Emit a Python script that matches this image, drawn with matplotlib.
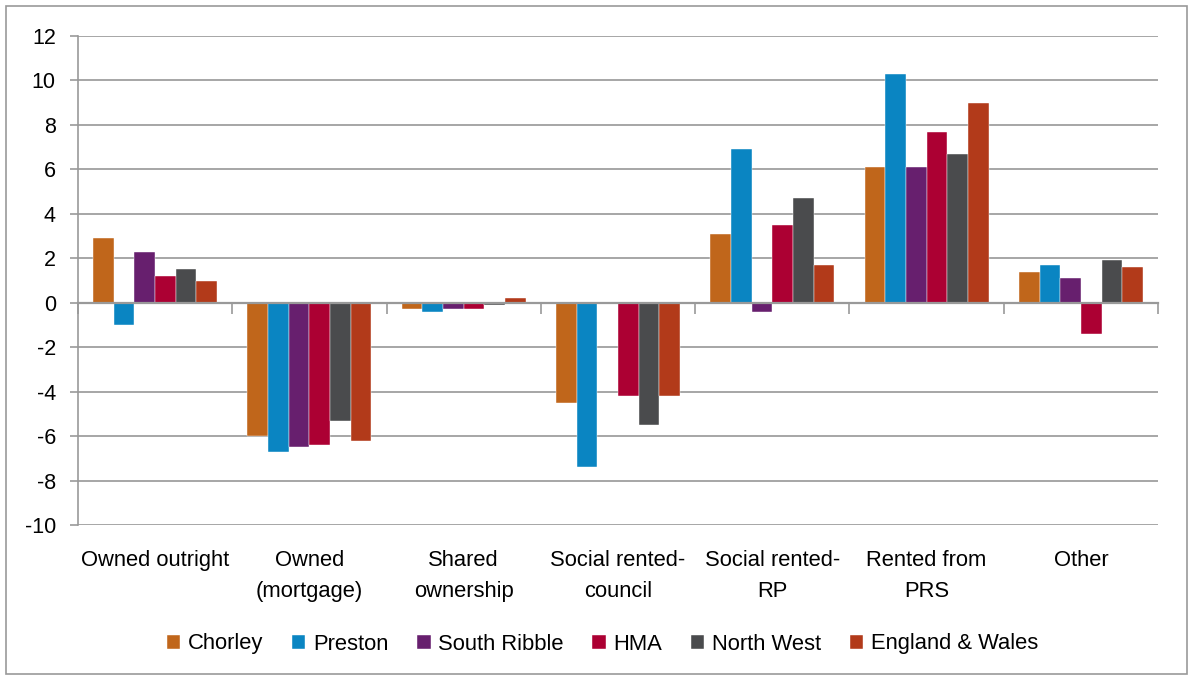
import matplotlib
matplotlib.use("Agg")
import matplotlib.pyplot as plt
import numpy as np
from matplotlib.patches import Rectangle
import matplotlib.transforms as mtransforms

categories = ["Owned outright", "Owned\n(mortgage)", "Shared\nownership",
              "Social rented-\ncouncil", "Social rented-\nRP", "Rented from\nPRS", "Other"]
series_names = ["Chorley", "Preston", "South Ribble", "HMA", "North West", "England & Wales"]
chorley      = [2.9, -6.0, -0.3, -4.5, 3.1, 6.1, 1.4]
preston      = [-1.0, -6.7, -0.4, -7.4, 6.9, 10.3, 1.7]
south_ribble = [2.3, -6.5, -0.3, 0.0, -0.4, 6.1, 1.1]
hma          = [1.2, -6.4, -0.3, -4.2, 3.5, 7.7, -1.4]
north_west   = [1.5, -5.3, -0.1, -5.5, 4.7, 6.7, 1.9]
eng_wales    = [1.0, -6.2, 0.2, -4.2, 1.7, 9.0, 1.6]
colors = ["#C0661B", "#0A85C2", "#671F6E", "#AC0033", "#4A4B4D", "#B23A1A"]
yticks = list(range(-10, 13, 2))

plt.rcParams['font.family'] = ['Liberation Sans', 'DejaVu Sans']
fig = plt.figure(figsize=(11.93, 6.8), dpi=100)
ax = fig.add_axes([78/1193, 1-525/680, (1158-78)/1193, (525-36)/680])

data = [chorley, preston, south_ribble, hma, north_west, eng_wales]
x = np.arange(len(categories))
bw = 0.134
for i, (name, vals) in enumerate(zip(series_names, data)):
    ax.bar(x + (i - 2.5) * bw, vals, width=bw, color=colors[i], label=name, zorder=3,
           edgecolor="white", linewidth=0.3)

ax.set_xlim(-0.5, len(categories) - 0.5)
ax.set_ylim(-10, 12)
ax.set_yticks(yticks)
ax.set_yticklabels([str(v) for v in yticks], fontsize=15.5)
ax.yaxis.grid(True, color="#A6A6A6", linewidth=1.4, zorder=0)
ax.set_axisbelow(True)
for s in ["top", "right"]:
    ax.spines[s].set_visible(False)
ax.spines["left"].set_color("#999999")
ax.spines["left"].set_linewidth(1.2)
ax.spines["bottom"].set_position(("data", 0))
ax.spines["bottom"].set_color("#999999")
ax.spines["bottom"].set_linewidth(1.6)
ax.spines["bottom"].set_zorder(4)
ax.tick_params(axis="y", direction="out", length=6, color="#999999", width=1.2, pad=10)
ax.set_xticks(np.arange(-0.5, len(categories)), minor=False)
ax.set_xticklabels([])
ax.tick_params(axis="x", direction="out", length=8, color="#999999", width=1.2)

trans = mtransforms.blended_transform_factory(ax.transData, ax.transAxes)
for xi, lab in zip(x, categories):
    ax.text(xi, -0.052, lab, transform=trans, ha="center", va="top", fontsize=15.8,
            linespacing=1.58)

fig.legend(loc="center", bbox_to_anchor=(0.505, 1 - 644/680), ncol=6, frameon=False,
           fontsize=15.8, handlelength=0.62, handleheight=0.62, handletextpad=0.35,
           columnspacing=1.3)

fig.patches.append(Rectangle((6/1193, 6/680), 1 - 12/1193, 1 - 12/680,
                             transform=fig.transFigure, fill=False,
                             edgecolor="#999999", linewidth=1.2))
fig.savefig("out.png", dpi=100)
